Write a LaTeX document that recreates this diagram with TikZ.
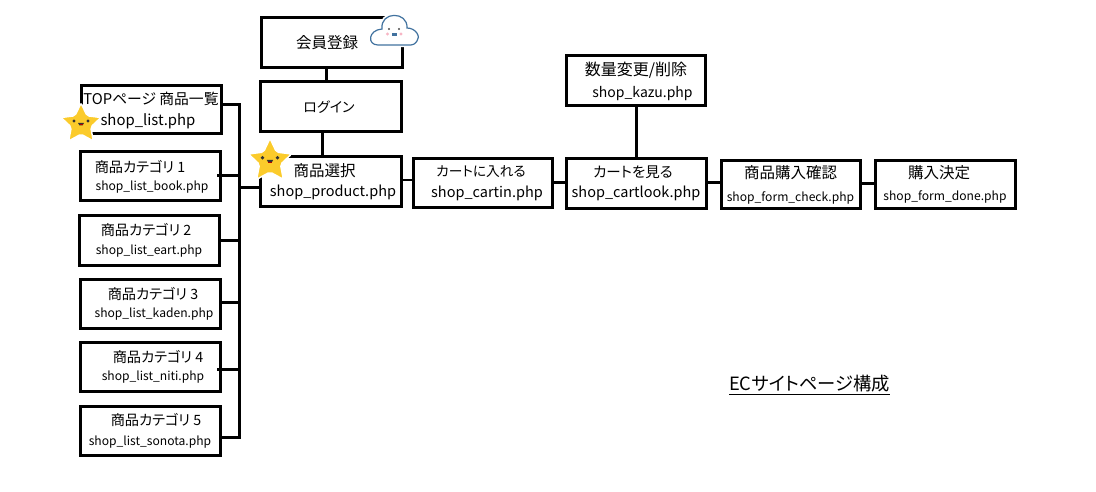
\documentclass[tikz,border=0pt]{standalone}
\usepackage{fontspec}
\setmainfont[RawFeature=+palt]{Noto Sans CJK JP}
\usetikzlibrary{positioning,shapes.geometric}
\definecolor{starfill}{HTML}{FBCB2B}
\definecolor{cloudline}{HTML}{41729F}
\definecolor{cheek}{HTML}{F7B5C4}
\newcommand{\sm}{\fontsize{12.1}{14}\selectfont}
\newcommand{\bg}{\fontsize{14.5}{16}\selectfont}
\tikzset{
    %Define style for boxes
    pagebox/.style={
           rectangle,
           draw=black,
           line width=3pt,
           minimum width=140pt,
           minimum height=49pt,
           inner sep=0pt,
           outer sep=0pt,
           align=center,
           font=\fontsize{15.5}{17}\selectfont,
           fill=white},
    catbox/.style={
           pagebox,
           font=\fontsize{14.2}{16}\selectfont},
    drop/.style={
           execute at begin node={\rule{0pt}{\dimexpr13pt+2\dimexpr#1pt\relax\relax}}},
    % Define connector styles
    wire/.style={
           line width=3pt},
    thinwire/.style={
           line width=2.4pt},
    smiley star/.pic={
      \node[star, star points=5, star point ratio=2.05, minimum size=42pt, inner sep=0pt,
            draw=white, line width=1.5pt, fill=starfill, rounded corners=2pt, transform shape] (body) at (0,0) {};
      \fill[black!80] (-7,-3) circle (1.7) (7,-3) circle (1.7);
      \fill[black!80] (-3,-1) -- (3,-1) -- (1.5,1.5) -- (-1.5,1.5) -- cycle;
      \fill[red!70!black] (-1.5,0.5) rectangle (1.5,1.5);
    },
    smiley cloud/.pic={
      \path[draw=cloudline, line width=1.2pt, fill=white, preaction={draw=white, line width=4.5pt}]
        (-16,15) .. controls (-27,15) and (-26,0) .. (-12,-1)
        .. controls (-14,-19) and (14,-19) .. (13,-2)
        .. controls (22,-2) and (27,7) .. (23,11) .. controls (21,14) and (19,15) .. (17,15) -- cycle;
      \fill[black!70] (-5,-1) circle (1.1) (5,-1) circle (1.1);
      \fill[cheek] (-6.5,4) circle (1.7) (7,4) circle (1.7);
      \fill[cloudline] (-2.5,3) rectangle (2.5,6);
    }
}
\begin{document}
\begin{tikzpicture}[x=1pt,y=-1pt]
\useasboundingbox (0,0) rectangle (1096,492);
% left column
\node[pagebox, minimum height=48pt, drop=2.5, font=\fontsize{14.8}{16}\selectfont] (top) at (151,110) {TOPページ 商品一覧\\[5pt]\hspace*{-6pt}{\fontsize{14.9}{16}\selectfont shop\_list.php}};
\node[catbox, drop=3, below=18pt of top, xshift=-1pt] (cat1) {\hspace*{-20pt}商品カテゴリ 1\\[2pt]{\sm\hspace*{4pt}shop\_list\_book.php}};
\node[catbox, drop=2.5, below=15pt of cat1, xshift=-1pt] (cat2) {\hspace*{-6pt}商品カテゴリ 2\\[3pt]{\sm shop\_list\_eart.php}};
\node[catbox, drop=2, below=14pt of cat2, xshift=1pt] (cat3) {\hspace*{6pt}商品カテゴリ 3\\[2pt]{\sm\hspace*{8pt}shop\_list\_kaden.php}};
\node[catbox, drop=1, below=14pt of cat3] (cat4) {\hspace*{16pt}商品カテゴリ 4\\[2pt]{\sm\hspace*{6pt}shop\_list\_niti.php}};
\node[catbox, drop=1, below=15pt of cat4] (cat5) {\hspace*{12pt}商品カテゴリ 5\\[4pt]{\sm shop\_list\_sonota.php}};
% main row
\node[pagebox, minimum width=141pt, minimum height=50pt] (member) at (332,43) {\hspace*{-10pt}会員登録};
\node[pagebox, minimum width=141pt, minimum height=50pt, below=14pt of member, xshift=-1.5pt, font=\fontsize{14}{16}\selectfont] (login) {\hspace*{-3pt}ログイン};
\node[pagebox, drop=2, minimum width=141pt, minimum height=50pt, below=25pt of login] (product) {\hspace*{-12pt}商品選択\\[3pt]\hspace*{5pt}{\bg shop\_product.php}};
\node[pagebox, drop=2, minimum width=139pt, right=12pt of product, yshift=-1.5pt, font=\fontsize{14.5}{16}\selectfont] (cartin) {\hspace*{-3pt}{\fontsize{13.7}{16}\selectfont カートに入れる}\\[5pt]\hspace*{9pt}shop\_cartin.php};
\node[pagebox, drop=1, minimum width=140pt, minimum height=50pt, right=14pt of cartin, font=\bg] (cartlook) {\hspace*{-6pt}カートを見る\\[4pt]shop\_cartlook.php};
\node[pagebox, drop=4.5, minimum width=139pt, minimum height=50pt, above=52.5pt of cartlook, font=\fontsize{16}{17}\selectfont] (kazu) {数量変更/削除\\[5pt]\hspace*{13pt}{\fontsize{14}{16}\selectfont shop\_kazu.php}};
\node[pagebox, drop=1, minimum width=139pt, minimum height=48pt, right=15pt of cartlook, yshift=-1pt] (check) {商品購入確認\\[6pt]{\sm shop\_form\_check.php}};
\node[pagebox, drop=1, right=15pt of check, minimum height=48pt] (done) {\hspace*{-12pt}購入決定\\[5pt]{\sm shop\_form\_done.php}};
\node (title) at (809.5,385) {\fontsize{18.3}{20}\selectfont\underline{ECサイトページ構成}};
% bus
\coordinate (bustop) at (239,103.5);
\coordinate (busend) at (239,438.5);
\coordinate (busjoin) at (239,188);
\draw[wire] (bustop) -- (busend);
\foreach \page/\y/\ext in {top/105/0,cat1/176/3,cat2/240/0,cat3/302/0,cat4/369/3,cat5/437/0}
  \draw[wire, shorten <=-\ext pt] (\page.east |- 0,\y) -- (239,\y);
\draw[wire] (busjoin) -- (product.west |- busjoin);
% connectors
\draw[wire] ([xshift=-6pt]member.south) -- ([xshift=-4.5pt]login.north);
\draw[wire] ([xshift=-8.5pt]login.south) -- ([xshift=-8.5pt]product.north);
\draw[thinwire] ([yshift=2pt]product.east) -- ([yshift=3.5pt]cartin.west);
\draw[thinwire] ([yshift=1pt]cartin.east) -- ([yshift=1pt]cartlook.west);
\draw[thinwire] ([yshift=1pt]cartlook.east) -- ([yshift=2pt]check.west);
\draw[thinwire] ([yshift=1pt]check.east) -- ([yshift=1pt]done.west);
\draw[wire] (kazu) -- (cartlook);
% stickers
\pic at (81,124) {smiley star};
\pic[scale=1.08] at (270,161) {smiley star};
\pic at (394,30) {smiley cloud};
\end{tikzpicture}
\end{document}
